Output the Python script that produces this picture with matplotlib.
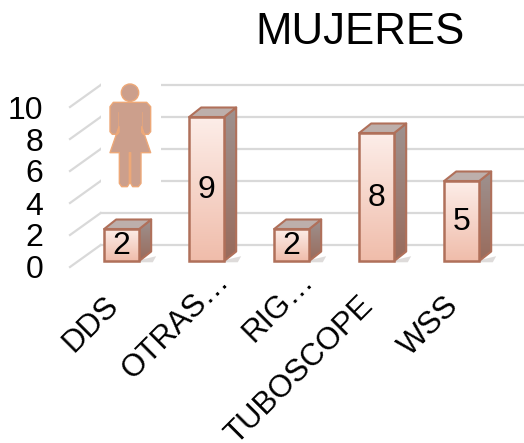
import numpy as np
import matplotlib
matplotlib.use('Agg')
import matplotlib.pyplot as plt
from matplotlib.patches import Polygon, Circle, Rectangle
from matplotlib.transforms import Affine2D

plt.rcParams['font.family'] = ['Liberation Sans', 'DejaVu Sans']

categories = ['DDS', 'OTRAS…', 'RIG…', 'TUBOSCOPE', 'WSS']
values = [2, 9, 2, 8, 5]
y_ticks = [0, 2, 4, 6, 8, 10]
title = 'MUJERES'

# figure is 524x443, 16 px per unit on y and 85 px per category on x
fig = plt.figure(figsize=(5.24, 4.43), dpi=100)
ax = fig.add_axes([70 / 524, (443 - 267) / 443, 454 / 524, 184 / 443])
ax.set_xlim(-0.608, 4.733)
ax.set_ylim(0, 11.5)
for s in ax.spines.values():
    s.set_visible(False)
ax.patch.set_visible(False)

ax.set_xticks([])
ax.set_yticks(y_ticks)
ax.tick_params(axis='y', length=0, pad=19, labelsize=23)

# wall and floor
floor = 0.375      # bars stand this far above the front edge of the floor
wall_dx = 0.361
wall_dy = 1.375
grid_col = '#d9d9d9'
for v in y_ticks:
    ax.plot([-0.608, -0.608 + wall_dx], [v, v + wall_dy], color=grid_col, lw=1.6, clip_on=False, zorder=1)
    ax.plot([-0.608 + wall_dx, 4.733], [v + wall_dy, v + wall_dy], color=grid_col, lw=1.6, clip_on=False, zorder=1)

# bars
half = 17.5 / 85
dx = 12 / 85
dy = 9.5 / 16
edge = '#b0705a'
front_grad = np.array([[0.99, 0.93, 0.91], [0.94, 0.74, 0.67]]).reshape(2, 1, 3)
side_grad = np.array([[0.62, 0.57, 0.56], [0.60, 0.42, 0.36]]).reshape(2, 1, 3)

for i, val in enumerate(values):
    top = floor + val
    # soft shadow on the floor
    ax.add_patch(Polygon([[i - half, floor - 0.08], [i + half + 0.16, floor - 0.08],
                          [i + half + 0.2, floor + 0.3], [i + half, floor + 0.05]],
                         facecolor='#c8c4c2', edgecolor='none', alpha=0.6, zorder=2))
    # side
    side = Polygon([[i + half, floor], [i + half + dx, floor + dy], [i + half + dx, top + dy], [i + half, top]],
                   facecolor='none', edgecolor=edge, lw=1.5, zorder=4, joinstyle='round')
    ax.add_patch(side)
    im = ax.imshow(np.linspace(side_grad[0], side_grad[1], 64), extent=[i + half, i + half + dx, floor, top + dy],
                   aspect='auto', zorder=3)
    im.set_clip_path(side)
    # top
    ax.add_patch(Polygon([[i - half, top], [i - half + dx, top + dy], [i + half + dx, top + dy], [i + half, top]],
                         facecolor='#bdafab', edgecolor=edge, lw=1.5, zorder=4, joinstyle='round'))
    # front
    bar = ax.bar(i, val, bottom=floor, width=2 * half, facecolor='none', edgecolor=edge, lw=1.8, zorder=6)[0]
    im = ax.imshow(np.linspace(front_grad[0], front_grad[1], 64), extent=[i - half, i + half, floor, top],
                   aspect='auto', zorder=5)
    im.set_clip_path(bar)
    ax.text(i, floor + val / 2 - 0.06, str(val), ha='center', va='center', fontsize=23, color='black', zorder=7)
    # category label, rotated; the cut labels sit further along the slant
    if categories[i].endswith('…'):
        lx, ly = i + 0.205, floor - 0.96
    else:
        lx, ly = i - 0.09, floor - 2.525
    ax.text(lx, ly, categories[i], rotation=45, rotation_mode='anchor', ha='right', va='center',
            fontsize=22.4, color='black', clip_on=False, zorder=7)

ax.set_xlim(-0.608, 4.733)
ax.set_ylim(0, 11.5)

fig.text(360 / 524, 1 - 32 / 443, title, ha='center', va='center', fontsize=31.5, color='black')

# woman icon, in pixels of the image
px = Affine2D().scale(1 / 524, -1 / 443).translate(0, 1) + fig.transFigure


def zoomed(pts):
    return [(x / 3 + 60, y / 3 + 70) for x, y in pts]


fig.add_artist(Rectangle((100.7, 82), 60.3, 108, transform=px, facecolor='white', edgecolor='none', zorder=3))
body = [(160, 97), (260, 97), (272, 110), (272, 185), (265, 193), (250, 193), (245, 186), (245, 170),
        (272, 248), (243, 248), (243, 340), (235, 350), (218, 350), (212, 340), (212, 248), (208, 248),
        (208, 340), (202, 350), (185, 350), (178, 340), (178, 248), (150, 248), (177, 170), (177, 186),
        (172, 193), (157, 193), (150, 185), (150, 110)]
icon_fill = '#cc9f8c'
icon_edge = '#eda878'
fig.add_artist(Polygon(zoomed(body), transform=px, facecolor=icon_fill, edgecolor=icon_edge, lw=1.0, zorder=4,
                       joinstyle='round'))
fig.add_artist(Circle((130, 92.7), 8.7, transform=px, facecolor=icon_fill, edgecolor=icon_edge, lw=1.0, zorder=4))
for xx in [175, 245]:
    (x0, y0), (x1, y1) = zoomed([(xx, 125), (xx, 172)])
    fig.add_artist(plt.Line2D([x0, x1], [y0, y1], transform=px, color=icon_edge, lw=0.6, alpha=0.7, zorder=5))

fig.savefig('out.png', dpi=100)
